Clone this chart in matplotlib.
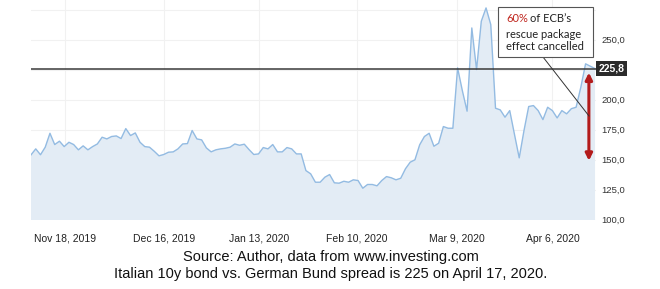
import matplotlib.pyplot as plt
from matplotlib.patches import Rectangle
from matplotlib.lines import Line2D
import matplotlib.transforms as mtransforms

# Italy-Germany 10y spread, trading days Nov 2019 - Apr 17, 2020
spread = [
    153.9, 158.9, 154.0, 160.3, 171.9, 162.5, 165.3, 160.8, 164.4, 162.5,
    158.1, 161.4, 158.1, 160.8, 163.0, 168.6, 167.2, 169.2, 169.7, 167.5,
    175.8, 170.0, 172.2, 164.4, 160.8, 160.3, 156.9, 153.1, 154.2, 156.1,
    156.4, 158.9, 163.0, 163.3, 174.2, 167.2, 166.4, 159.7, 156.4, 158.1,
    158.9, 159.4, 160.3, 163.0, 161.9, 162.8, 158.3, 154.2, 154.7, 160.0,
    158.9, 162.5, 156.4, 156.4, 160.0, 158.9, 154.7, 154.7, 140.8, 138.1,
    131.1, 131.1, 135.3, 137.5, 130.6, 130.3, 131.9, 131.1, 133.1, 132.5,
    126.1, 129.2, 129.2, 128.1, 132.5, 135.8, 134.8, 133.1, 134.4, 142.3,
    147.8, 149.8, 162.3, 169.2, 171.9, 161.1, 163.6, 177.5, 176.1, 176.1,
    226.4, 207.5, 190.3, 259.7, 225.0, 265.3, 276.4, 262.5, 192.8, 191.4,
    185.3, 190.8, 171.0, 151.4, 174.0, 194.2, 195.0, 190.8, 183.3, 193.6,
    190.8, 184.7, 190.8, 188.1, 192.4, 193.6, 210.3, 229.8, 227.8, 225.8,
]
days = list(range(len(spread)))

tick_labels = ["Nov 18, 2019", "Dec 16, 2019", "Jan 13, 2020",
               "Feb 10, 2020", "Mar 9, 2020", "Apr 6, 2020"]
tick_pos = [7.2, 28.1, 48.1, 68.8, 89.9, 110.0]
y_ticks = [100, 125, 150, 175, 200, 250]
y_grid = [225, 275]
last_value = 225.8
arrow_top, arrow_bottom = 222.5, 149.0

W, H = 660, 289
fig = plt.figure(figsize=(W / 100, H / 100), dpi=100)
plt.rcParams["font.family"] = ["Liberation Sans", "DejaVu Sans"]


def px(x, y):
    return x / W, 1 - y / H


ax = fig.add_axes([31 / W, (H - 220) / H, (596 - 31) / W, 220 / H])
ax.fill_between(days, spread, 0, color="#e3ecf5", lw=0)
ax.plot(days, spread, color="#93bbe2", lw=1.0)
ax.set_xlim(0, len(spread) - 0.8)
ax.set_ylim(99.6, 283)

for s in ax.spines.values():
    s.set_visible(False)
ax.yaxis.tick_right()
ax.set_yticks(y_ticks)
ax.set_yticks(y_grid, minor=True)
ax.set_yticklabels([f"{v:.1f}".replace(".", ",") for v in y_ticks],
                   fontsize=6.8, color="#333333")
ax.set_xticks(tick_pos)
ax.set_xticklabels(tick_labels, fontsize=7.5, color="#222222")
ax.tick_params(length=0, axis="y", pad=4, which="both")
ax.tick_params(length=0, axis="x", pad=10)
ax.grid(True, color="#f1f1f1", lw=0.8, which="both")
ax.set_axisbelow(True)

# current level line and value tag
ax.axhline(last_value, color="#3a3a3a", lw=1.1, zorder=3)
trans = mtransforms.blended_transform_factory(ax.transAxes, ax.transData)
ax.text(1.005, last_value, f"{last_value:.1f}".replace(".", ","), transform=trans,
        ha="left", va="center", fontsize=7.5, color="white", fontweight="bold",
        bbox=dict(boxstyle="square,pad=0.25", fc="#2b2b2b", ec="none"), zorder=5)

# red double arrow
ax.annotate("", xy=(117.7, arrow_bottom), xytext=(117.7, arrow_top),
            arrowprops=dict(arrowstyle="<|-|>", color="#b31b1b", lw=2.2,
                            mutation_scale=10, shrinkA=0, shrinkB=0), zorder=6)

# callout box
x0, y0 = px(498, 57)
x1, y1 = px(593, 7)
fig.patches.append(Rectangle((x0, y0), x1 - x0, y1 - y0, transform=fig.transFigure,
                             fc="white", ec="#555555", lw=0.8, zorder=7))
fig.lines.append(Line2D([px(543, 57)[0], px(589, 116)[0]],
                        [px(543, 57)[1], px(589, 116)[1]],
                        transform=fig.transFigure, color="#333333", lw=0.7, zorder=7))
callout_font = ["Lato", "DejaVu Sans"]
tx, ty = px(506, 19)
fig.text(tx, ty, "60%", color="#c0271f", fontsize=8, family=callout_font,
         va="center", zorder=8)
fig.text(px(530, 19)[0], ty, "of ECB\u2019s", color="#222222", fontsize=8,
         family=callout_font, va="center", zorder=8)
fig.text(tx, px(0, 34)[1], "rescue package", color="#222222", fontsize=8,
         family=callout_font, va="center", zorder=8)
fig.text(tx, px(0, 47)[1], "effect cancelled", color="#222222", fontsize=8,
         family=callout_font, va="center", zorder=8)

fig.text(px(331, 0)[0], px(0, 257)[1], "Source: Author, data from www.investing.com",
         ha="center", va="center", fontsize=10.5, color="#111111")
fig.text(px(331, 0)[0], px(0, 274)[1],
         "Italian 10y bond vs. German Bund spread is 225 on April 17, 2020.",
         ha="center", va="center", fontsize=10.5, color="#111111")

fig.savefig("out.png", dpi=100)
